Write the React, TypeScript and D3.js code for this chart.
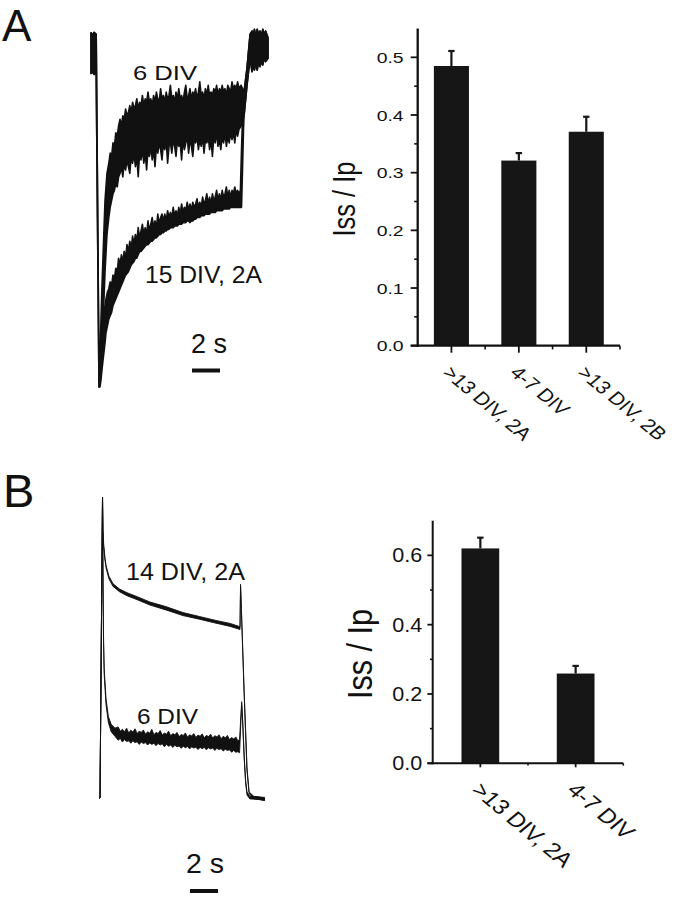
import React from "react";
import * as d3 from "d3";

const FONT = "'Liberation Sans', Arial, Helvetica, sans-serif";
const INK = "#111";
const BAR = "#161616";

// ---------- Panel A, bar chart ----------
const catsA = [">13 DIV, 2A", "4-7 DIV", ">13 DIV, 2B"];
const meansA = [0.485, 0.321, 0.371];
const errsA = [0.026, 0.013, 0.026];
const ticksA = [0, 0.1, 0.2, 0.3, 0.4, 0.5];
const minorA = [0.05, 0.15, 0.25, 0.35, 0.45];

// ---------- Panel B, bar chart ----------
const catsB = [">13 DIV, 2A", "4-7 DIV"];
const meansB = [0.62, 0.259];
const errsB = [0.031, 0.022];
const ticksB = [0, 0.2, 0.4, 0.6];
const minorB = [0.1, 0.3, 0.5];

const yTitle = "Iss / Ip";
const scaleBarLabel = "2 s";
const scaleBarSeconds = 2;

// ---------- Panel A, current traces: [time s, lower envelope, upper envelope] (I / Ipeak) ----------
type Pt = [number, number, number];
const preA: Pt[] = [
  [-0.07, -0.075, 0.045],
  [0.05, -0.07, 0.04],
  [0.15, -0.078, 0.046],
  [0.3, -0.07, 0.04],
];
const endA: Pt[] = [
  [10.86, -0.2, -0.13],
  [11.07, -0.11, -0.06],
  [11.29, -0.03, 0.04],
  [11.43, -0.07, 0.05],
  [11.5, -0.05, 0.03],
  [11.6, -0.065, 0.055],
  [11.7, -0.045, 0.035],
  [11.8, -0.065, 0.055],
  [11.9, -0.04, 0.04],
  [12.0, -0.055, 0.05],
  [12.1, -0.04, 0.035],
  [12.2, -0.05, 0.055],
  [12.3, -0.03, 0.04],
  [12.4, -0.04, 0.05],
  [12.57, -0.03, 0.03],
];
const sixDivA: Pt[] = [
  [0.5, -1.0, -0.97],
  [0.6, -0.97, -0.86],
  [0.7, -0.9, -0.72],
  [0.8, -0.8, -0.6],
  [0.93, -0.66, -0.45],
  [1.07, -0.55, -0.37],
  [1.2, -0.5, -0.34],
  [1.3, -0.47, -0.31],
  [1.4, -0.45, -0.32],
  [1.5, -0.43, -0.28],
  [1.6, -0.42, -0.29],
  [1.7, -0.4, -0.25],
  [1.8, -0.41, -0.26],
  [1.9, -0.38, -0.23],
  [2.0, -0.37, -0.21],
  [2.1, -0.35, -0.23],
  [2.2, -0.38, -0.2],
  [2.3, -0.34, -0.21],
  [2.4, -0.36, -0.18],
  [2.5, -0.33, -0.2],
  [2.6, -0.35, -0.19],
  [2.7, -0.37, -0.17],
  [2.8, -0.32, -0.19],
  [2.9, -0.34, -0.16],
  [3.0, -0.31, -0.18],
  [3.1, -0.35, -0.17],
  [3.2, -0.32, -0.15],
  [3.3, -0.38, -0.18],
  [3.4, -0.31, -0.16],
  [3.5, -0.33, -0.17],
  [3.6, -0.3, -0.14],
  [3.7, -0.34, -0.17],
  [3.8, -0.31, -0.15],
  [3.9, -0.36, -0.16],
  [4.0, -0.3, -0.13],
  [4.1, -0.32, -0.16],
  [4.2, -0.29, -0.15],
  [4.3, -0.33, -0.17],
  [4.4, -0.3, -0.14],
  [4.5, -0.35, -0.16],
  [4.6, -0.29, -0.13],
  [4.7, -0.31, -0.15],
  [4.8, -0.28, -0.16],
  [4.9, -0.3, -0.12],
  [5.0, -0.33, -0.15],
  [5.1, -0.28, -0.14],
  [5.2, -0.3, -0.16],
  [5.3, -0.27, -0.13],
  [5.4, -0.34, -0.15],
  [5.5, -0.29, -0.14],
  [5.6, -0.28, -0.11],
  [5.7, -0.31, -0.15],
  [5.8, -0.27, -0.14],
  [5.9, -0.29, -0.16],
  [6.0, -0.32, -0.13],
  [6.1, -0.27, -0.15],
  [6.2, -0.29, -0.12],
  [6.3, -0.28, -0.15],
  [6.4, -0.33, -0.14],
  [6.5, -0.27, -0.16],
  [6.6, -0.3, -0.13],
  [6.7, -0.28, -0.11],
  [6.8, -0.26, -0.15],
  [6.9, -0.31, -0.14],
  [7.0, -0.27, -0.12],
  [7.1, -0.29, -0.15],
  [7.2, -0.32, -0.13],
  [7.3, -0.27, -0.14],
  [7.4, -0.28, -0.12],
  [7.5, -0.26, -0.15],
  [7.6, -0.3, -0.13],
  [7.7, -0.27, -0.1],
  [7.8, -0.29, -0.14],
  [7.9, -0.26, -0.13],
  [8.0, -0.31, -0.15],
  [8.1, -0.27, -0.12],
  [8.2, -0.28, -0.14],
  [8.3, -0.26, -0.11],
  [8.4, -0.3, -0.14],
  [8.5, -0.27, -0.13],
  [8.6, -0.32, -0.14],
  [8.7, -0.26, -0.12],
  [8.8, -0.28, -0.13],
  [8.9, -0.25, -0.11],
  [9.0, -0.29, -0.14],
  [9.1, -0.27, -0.12],
  [9.2, -0.3, -0.13],
  [9.3, -0.26, -0.11],
  [9.4, -0.28, -0.13],
  [9.5, -0.25, -0.12],
  [9.6, -0.29, -0.14],
  [9.7, -0.26, -0.11],
  [9.8, -0.28, -0.12],
  [9.9, -0.25, -0.13],
  [10.0, -0.27, -0.1],
  [10.1, -0.25, -0.12],
  [10.2, -0.28, -0.11],
  [10.3, -0.24, -0.12],
  [10.4, -0.26, -0.1],
  [10.5, -0.24, -0.12],
  [10.65, -0.23, -0.11],
];
const fifteenDivA: Pt[] = [
  [0.5, -1.0, -0.97],
  [0.57, -1.0, -0.92],
  [0.64, -0.98, -0.85],
  [0.71, -0.95, -0.8],
  [0.79, -0.92, -0.78],
  [0.93, -0.87, -0.76],
  [1.0, -0.84, -0.74],
  [1.1, -0.82, -0.72],
  [1.2, -0.8, -0.71],
  [1.3, -0.79, -0.69],
  [1.4, -0.78, -0.7],
  [1.5, -0.76, -0.67],
  [1.6, -0.75, -0.68],
  [1.7, -0.74, -0.65],
  [1.8, -0.73, -0.66],
  [1.9, -0.72, -0.62],
  [2.0, -0.71, -0.64],
  [2.1, -0.7, -0.61],
  [2.2, -0.69, -0.63],
  [2.3, -0.68, -0.6],
  [2.4, -0.67, -0.62],
  [2.5, -0.665, -0.58],
  [2.6, -0.66, -0.6],
  [2.7, -0.65, -0.57],
  [2.8, -0.64, -0.59],
  [2.9, -0.635, -0.555],
  [3.0, -0.63, -0.58],
  [3.1, -0.62, -0.55],
  [3.2, -0.62, -0.57],
  [3.3, -0.61, -0.53],
  [3.4, -0.6, -0.56],
  [3.5, -0.6, -0.54],
  [3.6, -0.595, -0.52],
  [3.7, -0.59, -0.55],
  [3.8, -0.585, -0.53],
  [3.9, -0.58, -0.55],
  [4.0, -0.58, -0.51],
  [4.1, -0.575, -0.54],
  [4.2, -0.57, -0.52],
  [4.3, -0.57, -0.5],
  [4.4, -0.565, -0.53],
  [4.5, -0.56, -0.51],
  [4.6, -0.56, -0.53],
  [4.7, -0.555, -0.49],
  [4.8, -0.55, -0.52],
  [4.9, -0.55, -0.5],
  [5.0, -0.545, -0.49],
  [5.1, -0.545, -0.51],
  [5.2, -0.54, -0.49],
  [5.3, -0.54, -0.51],
  [5.4, -0.535, -0.48],
  [5.5, -0.535, -0.5],
  [5.6, -0.53, -0.485],
  [5.7, -0.53, -0.5],
  [5.8, -0.53, -0.47],
  [5.9, -0.525, -0.495],
  [6.0, -0.525, -0.48],
  [6.1, -0.525, -0.495],
  [6.2, -0.52, -0.47],
  [6.3, -0.52, -0.49],
  [6.4, -0.52, -0.46],
  [6.5, -0.515, -0.485],
  [6.6, -0.515, -0.47],
  [6.7, -0.515, -0.48],
  [6.8, -0.51, -0.455],
  [6.9, -0.51, -0.48],
  [7.0, -0.515, -0.46],
  [7.1, -0.51, -0.48],
  [7.2, -0.51, -0.455],
  [7.3, -0.505, -0.47],
  [7.4, -0.505, -0.46],
  [7.5, -0.5, -0.445],
  [7.6, -0.5, -0.47],
  [7.7, -0.5, -0.455],
  [7.8, -0.495, -0.47],
  [7.9, -0.495, -0.44],
  [8.0, -0.495, -0.46],
  [8.1, -0.49, -0.45],
  [8.2, -0.49, -0.43],
  [8.3, -0.49, -0.46],
  [8.4, -0.49, -0.44],
  [8.5, -0.485, -0.46],
  [8.6, -0.485, -0.43],
  [8.7, -0.485, -0.45],
  [8.8, -0.485, -0.44],
  [8.9, -0.48, -0.42],
  [9.0, -0.48, -0.45],
  [9.1, -0.48, -0.43],
  [9.2, -0.48, -0.45],
  [9.3, -0.48, -0.42],
  [9.4, -0.475, -0.44],
  [9.5, -0.475, -0.43],
  [9.6, -0.475, -0.41],
  [9.7, -0.475, -0.44],
  [9.8, -0.475, -0.42],
  [9.9, -0.47, -0.44],
  [10.0, -0.47, -0.42],
  [10.1, -0.47, -0.43],
  [10.2, -0.47, -0.41],
  [10.3, -0.47, -0.43],
  [10.4, -0.47, -0.42],
  [10.5, -0.47, -0.43],
  [10.6, -0.47, -0.42],
  [10.68, -0.47, -0.3],
  [10.75, -0.36, -0.21],
  [10.82, -0.24, -0.17],
];

// ---------- Panel B, current traces ----------
const preB: Pt[] = [
  [-0.07, 0, 0],
  [0.0, 0, 0],
  [0.18, 1.0, 1.0],
];
const fourteenDivB: Pt[] = [
  [0.21, 0.885, 0.895],
  [0.26, 0.835, 0.845],
  [0.35, 0.792, 0.8],
  [0.43, 0.765, 0.773],
  [0.64, 0.728, 0.737],
  [0.93, 0.703, 0.712],
  [1.4, 0.685, 0.694],
  [1.93, 0.672, 0.682],
  [2.7, 0.658, 0.668],
  [3.57, 0.641, 0.651],
  [4.7, 0.625, 0.636],
  [5.93, 0.606, 0.616],
  [7.1, 0.594, 0.603],
  [8.36, 0.58, 0.589],
  [9.3, 0.57, 0.58],
  [10.0, 0.56, 0.569],
  [10.04, 0.7, 0.71],
  [10.1, 0.62, 0.63],
  [10.3, 0.34, 0.35],
  [10.5, 0.09, 0.1],
  [10.65, 0.015, 0.02],
  [11.0, -0.003, 0.005],
  [11.4, -0.005, 0.003],
  [11.75, -0.008, 0.0],
];
const sixDivB: Pt[] = [
  [0.22, 0.7, 0.72],
  [0.25, 0.52, 0.54],
  [0.3, 0.41, 0.43],
  [0.43, 0.31, 0.33],
  [0.6, 0.25, 0.27],
  [0.8, 0.22, 0.245],
  [1.07, 0.205, 0.232],
  [1.3, 0.192, 0.236],
  [1.45, 0.198, 0.222],
  [1.6, 0.186, 0.228],
  [1.75, 0.194, 0.22],
  [1.9, 0.188, 0.232],
  [2.05, 0.19, 0.216],
  [2.2, 0.182, 0.225],
  [2.35, 0.19, 0.219],
  [2.5, 0.184, 0.23],
  [2.65, 0.187, 0.214],
  [2.8, 0.178, 0.222],
  [2.95, 0.186, 0.218],
  [3.1, 0.181, 0.226],
  [3.25, 0.184, 0.212],
  [3.4, 0.176, 0.22],
  [3.55, 0.183, 0.215],
  [3.7, 0.178, 0.228],
  [3.85, 0.182, 0.21],
  [4.0, 0.174, 0.218],
  [4.15, 0.181, 0.214],
  [4.3, 0.176, 0.224],
  [4.45, 0.18, 0.209],
  [4.6, 0.17, 0.216],
  [4.75, 0.178, 0.212],
  [4.9, 0.172, 0.222],
  [5.05, 0.176, 0.207],
  [5.2, 0.168, 0.214],
  [5.35, 0.175, 0.21],
  [5.5, 0.17, 0.218],
  [5.65, 0.173, 0.204],
  [5.8, 0.165, 0.211],
  [5.95, 0.172, 0.208],
  [6.1, 0.167, 0.216],
  [6.25, 0.171, 0.202],
  [6.4, 0.163, 0.21],
  [6.55, 0.17, 0.206],
  [6.7, 0.166, 0.214],
  [6.85, 0.169, 0.201],
  [7.0, 0.161, 0.209],
  [7.15, 0.168, 0.205],
  [7.3, 0.164, 0.213],
  [7.45, 0.168, 0.2],
  [7.6, 0.16, 0.208],
  [7.75, 0.167, 0.204],
  [7.9, 0.163, 0.212],
  [8.05, 0.166, 0.199],
  [8.2, 0.158, 0.207],
  [8.35, 0.165, 0.203],
  [8.5, 0.161, 0.21],
  [8.65, 0.164, 0.197],
  [8.8, 0.156, 0.205],
  [8.95, 0.162, 0.2],
  [9.1, 0.158, 0.208],
  [9.25, 0.16, 0.194],
  [9.4, 0.152, 0.201],
  [9.55, 0.158, 0.196],
  [9.7, 0.152, 0.203],
  [9.85, 0.154, 0.19],
  [9.97, 0.15, 0.195],
  [10.06, 0.25, 0.27],
  [10.12, 0.31, 0.32],
  [10.2, 0.24, 0.25],
  [10.3, 0.13, 0.14],
  [10.4, 0.05, 0.06],
  [10.5, 0.01, 0.02],
  [10.7, -0.003, 0.006],
  [11.2, -0.004, 0.004],
  [11.75, -0.008, 0.002],
];

const labelsA = ["6 DIV", "15 DIV, 2A"];
const labelsB = ["14 DIV, 2A", "6 DIV"];

type BarProps = {
  cats: string[];
  means: number[];
  errs: number[];
  ticks: number[];
  minor: number[];
  yMax: number;
  left: number;
  right: number;
  top: number;
  bottom: number;
  pad: number;
  tickFont: number;
  tickTextLen: number;
  labelGap: number;
  majorLen: number;
  minorLen: number;
  xMajorLen: number;
  xMinorLen: number;
  axisW: number;
  titleFont: number;
  titleLen: number;
  titleX: number;
  catFont: number;
};

function BarPanel(p: BarProps) {
  const x = d3
    .scaleBand<string>()
    .domain(p.cats)
    .range([p.left, p.right])
    .paddingInner(p.pad)
    .paddingOuter(p.pad / 2);
  const y = d3.scaleLinear().domain([0, p.yMax]).range([p.bottom, p.top]);
  const fmt = d3.format(".1f");
  const bw = x.bandwidth();
  const step = x.step();
  const capH = p.tickFont * 0.716;
  return (
    <g>
      {p.cats.map((c, i) => {
        const cx = (x(c) as number) + bw / 2;
        const yt = y(p.means[i]);
        const ye = y(p.means[i] + p.errs[i]);
        return (
          <g key={c}>
            <rect x={x(c)} y={yt} width={bw} height={p.bottom - yt} fill={BAR} />
            <line x1={cx} x2={cx} y1={yt} y2={ye} stroke={BAR} strokeWidth={2.2} />
            <line x1={cx - 3.2} x2={cx + 3.2} y1={ye} y2={ye} stroke={BAR} strokeWidth={2.2} />
          </g>
        );
      })}
      {/* y axis */}
      <line x1={p.left} x2={p.left} y1={p.top} y2={p.bottom + p.axisW / 2} stroke={INK} strokeWidth={p.axisW} />
      {p.ticks.map((t) => (
        <g key={"t" + t}>
          <line x1={p.left - p.majorLen} x2={p.left} y1={y(t)} y2={y(t)} stroke={INK} strokeWidth={1.8} />
          <text
            x={p.left - p.labelGap}
            y={y(t) + capH / 2}
            textAnchor="end"
            fontSize={p.tickFont}
            fontFamily={FONT}
            fill={INK}
            textLength={p.tickTextLen}
            lengthAdjust="spacingAndGlyphs"
          >
            {fmt(t)}
          </text>
        </g>
      ))}
      {p.minor.map((t) => (
        <line key={"m" + t} x1={p.left - p.minorLen} x2={p.left} y1={y(t)} y2={y(t)} stroke={INK} strokeWidth={1.6} />
      ))}
      {/* x axis */}
      <line x1={p.left - p.majorLen} x2={p.right} y1={p.bottom} y2={p.bottom} stroke={INK} strokeWidth={p.axisW} />
      {p.cats.map((c) => {
        const cx = (x(c) as number) + bw / 2;
        return (
          <g key={"x" + c}>
            <line x1={cx} x2={cx} y1={p.bottom} y2={p.bottom + p.xMajorLen} stroke={INK} strokeWidth={1.8} />
            <line
              x1={cx + step / 2}
              x2={cx + step / 2}
              y1={p.bottom}
              y2={p.bottom + p.xMinorLen}
              stroke={INK}
              strokeWidth={1.6}
            />
            <text
              transform={`translate(${cx - 10},${p.bottom + 28}) scale(1.2,1) rotate(45)`}
              fontSize={p.catFont}
              fontFamily={FONT}
              fill={INK}
            >
              {c}
            </text>
          </g>
        );
      })}
      {/* y title */}
      <text
        transform={`translate(${p.titleX},${(p.top + p.bottom) / 2 + 12}) rotate(-90)`}
        textAnchor="middle"
        fontSize={p.titleFont}
        fontFamily={FONT}
        fill={INK}
        textLength={p.titleLen}
        lengthAdjust="spacingAndGlyphs"
      >
        {yTitle}
      </text>
    </g>
  );
}

export default function App() {
  const xA = d3.scaleLinear().domain([0, 12.5]).range([92, 267]);
  const yA = d3.scaleLinear().domain([-1, 0]).range([387, 48]);
  const xB = d3.scaleLinear().domain([0, 12]).range([100, 268]);
  const yB = d3.scaleLinear().domain([0, 1]).range([798, 497]);
  const areaA = d3
    .area<Pt>()
    .x((d) => xA(d[0]))
    .y0((d) => yA(d[1]))
    .y1((d) => yA(d[2]));
  const areaB = d3
    .area<Pt>()
    .x((d) => xB(d[0]))
    .y0((d) => yB(d[1]))
    .y1((d) => yB(d[2]));

  const traceA6 = [...preA, ...sixDivA, ...endA];
  const traceA15 = [...preA, ...fifteenDivA, ...endA];
  const traceB14 = [...preB, ...fourteenDivB];
  const traceB6 = [...preB, ...sixDivB];

  const barA = xA(scaleBarSeconds) - xA(0);
  const barB = xB(scaleBarSeconds) - xB(0);

  const txt = (s: string, x: number, y: number, size: number, len: number) => (
    <text x={x} y={y} fontSize={size} fontFamily={FONT} fill={INK} textLength={len} lengthAdjust="spacingAndGlyphs">
      {s}
    </text>
  );

  return (
    <svg
      width={676}
      height={899}
      viewBox="0 0 676 899"
      style={{ position: "absolute", left: 0, top: 0, background: "#fff", display: "block" }}
    >
      <rect x={0} y={0} width={676} height={899} fill="#fff" />
      {/* panel letters */}
      <text x={2} y={41} fontSize={44} fontFamily={FONT} fill={INK}>
        A
      </text>
      <text x={3} y={507} fontSize={47} fontFamily={FONT} fill={INK}>
        B
      </text>

      {/* Panel A traces */}
      <path d={areaA(traceA15) || ""} fill={INK} stroke={INK} strokeWidth={1.6} strokeLinejoin="round" />
      <path d={areaA(traceA6) || ""} fill={INK} stroke={INK} strokeWidth={1.6} strokeLinejoin="round" />
      {txt(labelsA[0], 133, 80, 21, 64)}
      {txt(labelsA[1], 145, 283, 23, 117)}
      {txt(scaleBarLabel, 191, 353, 28, 36)}
      <line x1={192} x2={192 + barA} y1={370.5} y2={370.5} stroke={INK} strokeWidth={4} />

      {/* Panel B traces */}
      <path d={areaB(traceB14) || ""} fill={INK} stroke={INK} strokeWidth={0.9} strokeLinejoin="round" />
      <path d={areaB(traceB6) || ""} fill={INK} stroke={INK} strokeWidth={0.9} strokeLinejoin="round" />
      {txt(labelsB[0], 126, 580, 23, 119)}
      {txt(labelsB[1], 137, 724, 22, 61)}
      {txt(scaleBarLabel, 186, 873, 28, 38)}
      <line x1={190} x2={190 + barB} y1={891} y2={891} stroke={INK} strokeWidth={4} />

      <BarPanel
        cats={catsA}
        means={meansA}
        errs={errsA}
        ticks={ticksA}
        minor={minorA}
        yMax={0.55}
        left={417.7}
        right={620}
        top={28.5}
        bottom={345.7}
        pad={0.48}
        tickFont={15.5}
        tickTextLen={27}
        labelGap={14}
        majorLen={7}
        minorLen={3.5}
        xMajorLen={7}
        xMinorLen={3.7}
        axisW={2.3}
        titleFont={31}
        titleLen={75}
        titleX={355}
        catFont={18}
      />
      <BarPanel
        cats={catsB}
        means={meansB}
        errs={errsB}
        ticks={ticksB}
        minor={minorB}
        yMax={0.7}
        left={432.7}
        right={623.3}
        top={520.7}
        bottom={763.3}
        pad={0.604}
        tickFont={19.5}
        tickTextLen={30}
        labelGap={10.5}
        majorLen={5.3}
        minorLen={2.7}
        xMajorLen={4}
        xMinorLen={2.3}
        axisW={2}
        titleFont={35}
        titleLen={90}
        titleX={372}
        catFont={20.5}
      />
    </svg>
  );
}
